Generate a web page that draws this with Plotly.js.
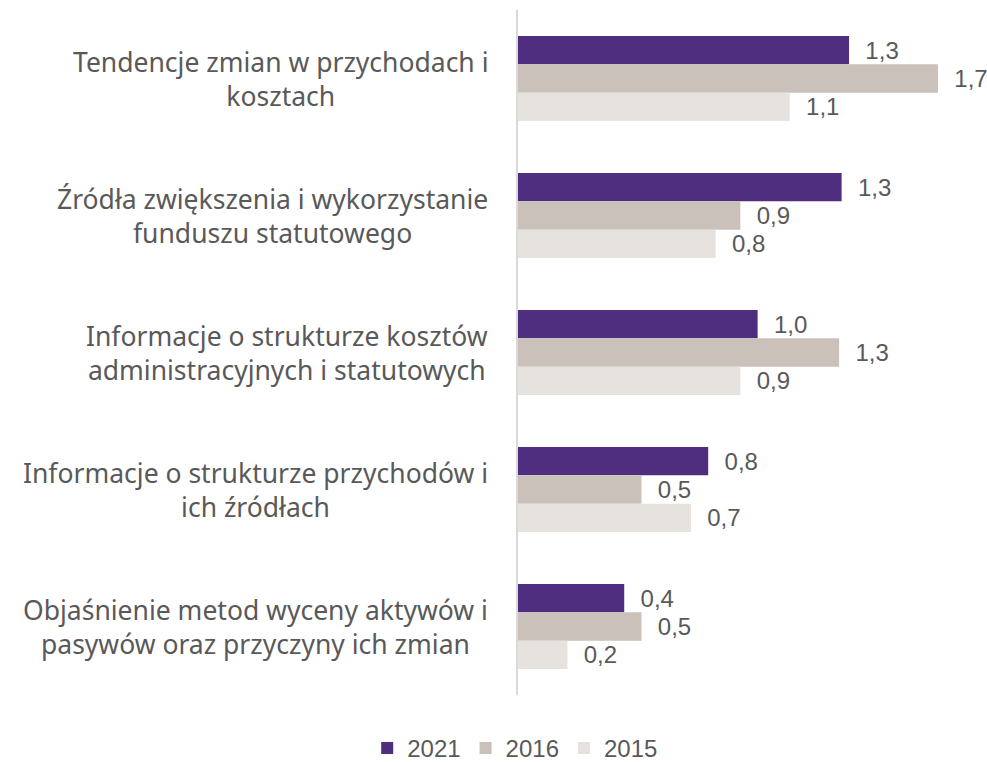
<!DOCTYPE html>
<html>
<head>
<meta charset="utf-8">
<script src="https://cdn.plot.ly/plotly-3.0.1.min.js"></script>
<style>html,body{margin:0;padding:0;background:#fff;}#chart{width:987px;height:762px;}</style>
</head>
<body>
<div id="chart"></div>
<script>
var categories = [
  "Tendencje zmian w przychodach i<br>kosztach",
  "Źródła zwiększenia i wykorzystanie<br>funduszu statutowego",
  "Informacje o strukturze kosztów<br>administracyjnych i statutowych",
  "Informacje o strukturze przychodów i<br>ich źródłach",
  "Objaśnienie metod wyceny aktywów i<br>pasywów oraz przyczyny ich zmian"
];
var seriesNames = ["2021", "2016", "2015"];
var values2021 = [1.34, 1.31, 0.97, 0.77, 0.43];
var values2016 = [1.70, 0.90, 1.30, 0.50, 0.50];
var values2015 = [1.10, 0.80, 0.90, 0.70, 0.20];
var colors = ["#4F2D7F", "#C9C1BA", "#E6E2DE"];

var labelFont = {family: "Liberation Sans, Arial, sans-serif", size: 24, color: "#595959"};
var catFont = {family: "Noto Sans, sans-serif", size: 26.5, color: "#595959"};

function mk(name, vals, color) {
  return {
    type: "bar", orientation: "h", name: name,
    y: categories, x: vals,
    marker: {color: color, line: {width: 0}},
    texttemplate: "\u00a0\u00a0%{x:.1f}",
    textposition: "outside", cliponaxis: false,
    textfont: labelFont, hoverinfo: "skip"
  };
}
var data = [
  mk(seriesNames[0], values2021, colors[0]),
  mk(seriesNames[1], values2016, colors[1]),
  mk(seriesNames[2], values2015, colors[2])
];

var annotations = categories.map(function (c) {
  return {
    xref: "paper", yref: "y", x: -0.061, y: c, text: c,
    xanchor: "right", yanchor: "middle", align: "center",
    showarrow: false, font: catFont
  };
});

var layout = {
  width: 987, height: 762,
  margin: {l: 518, r: 12, t: 10, b: 67},
  paper_bgcolor: "#fff", plot_bgcolor: "#fff",
  separators: ", ",
  barmode: "group", bargap: 0.38, bargroupgap: 0,
  xaxis: {range: [0, 1.85], visible: false, showgrid: false, zeroline: false},
  yaxis: {autorange: "reversed", showticklabels: false, ticks: "", showgrid: false,
          zeroline: false, showline: true, linecolor: "#D9D9D9", linewidth: 2},
  showlegend: true,
  legend: {orientation: "h", xref: "container", yref: "container", x: 0.522, xanchor: "center",
           y: 0.018, yanchor: "middle", font: labelFont, traceorder: "normal"},
  annotations: annotations
};
Plotly.newPlot("chart", data, layout, {displayModeBar: false, staticPlot: true});
</script>
</body>
</html>
